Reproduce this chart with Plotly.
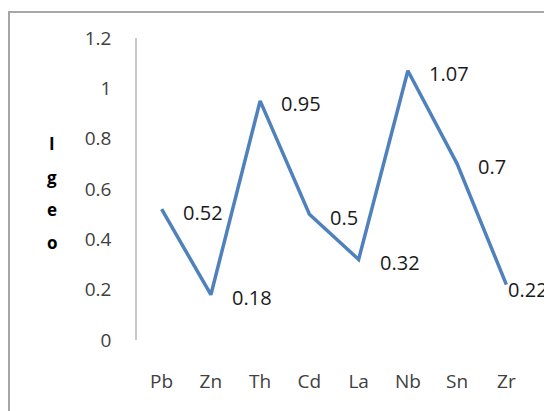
import plotly.graph_objects as go

elements = ["Pb", "Zn", "Th", "Cd", "La", "Nb", "Sn", "Zr"]
igeo = [0.52, 0.18, 0.95, 0.5, 0.32, 1.07, 0.7, 0.22]
y_ticks = [0, 0.2, 0.4, 0.6, 0.8, 1, 1.2]
y_tick_labels = ["0", "0.2", "0.4", "0.6", "0.8", "1", "1.2"]
axis_letters = ["I", "g", "e", "o"]

OFF = 8  # page body margin
W, H = 552 - OFF, 411 - OFF
# target screen positions of plot area: x 137..531, y 38..340
L = 137 - OFF
T = 38 - OFF
R = W - (531 - OFF)
B = H - (340 - OFF)
pw, ph = W - L - R, H - T - B

def px_x(p):  # screen px -> paper
    return (p - OFF - L) / pw

def px_y(p):
    return (340 - p) / ph

fig = go.Figure()
fig.add_trace(go.Scatter(
    x=elements, y=igeo, mode="lines",
    line=dict(color="#4F81BD", width=3.5),
    hoverinfo="skip", showlegend=False,
))

font = "Open Sans, Liberation Sans, sans-serif"
annotations = []
for i, (e, v) in enumerate(zip(elements, igeo)):
    last = i == len(elements) - 1
    annotations.append(dict(
        x=e, y=v, xref="x", yref="y", text=str(v), showarrow=False,
        xanchor="left", yanchor="middle",
        xshift=0 if last else 19, yshift=-5 if last else -3,
        font=dict(family=font, size=20, color="#1a1a1a"),
    ))

letter_y = [143, 177, 209, 242]
for ch, py in zip(axis_letters, letter_y):
    annotations.append(dict(
        x=px_x(52), y=px_y(py), xref="paper", yref="paper", text="<b>" + ch + "</b>",
        showarrow=False, xanchor="center", yanchor="middle",
        font=dict(family=font, size=17, color="#000000"),
    ))

fig.update_layout(
    width=W, height=H,
    margin=dict(l=L, r=R, t=T, b=B, pad=0),
    paper_bgcolor="white", plot_bgcolor="white",
    annotations=annotations,
    shapes=[dict(
        type="rect", xref="paper", yref="paper",
        x0=px_x(9), x1=px_x(580), y0=px_y(440), y1=px_y(12),
        line=dict(color="#a6a6a6", width=2), fillcolor="rgba(0,0,0,0)", layer="below",
    )],
    xaxis=dict(
        type="category", showgrid=False, zeroline=False, showline=False,
        ticks="outside", ticklen=24, tickcolor="rgba(0,0,0,0)",
        tickfont=dict(family=font, size=19, color="#404040"),
        range=[-0.5, len(elements) - 0.5],
    ),
    yaxis=dict(
        range=[0, 1.2], tickvals=y_ticks, ticktext=y_tick_labels,
        showgrid=False, zeroline=False, showline=True, linecolor="#c8c8c8", linewidth=1.5,
        ticks="outside", ticklen=20, tickcolor="rgba(0,0,0,0)",
        tickfont=dict(family=font, size=19, color="#404040"),
    ),
)

fig.write_html("out.html")
